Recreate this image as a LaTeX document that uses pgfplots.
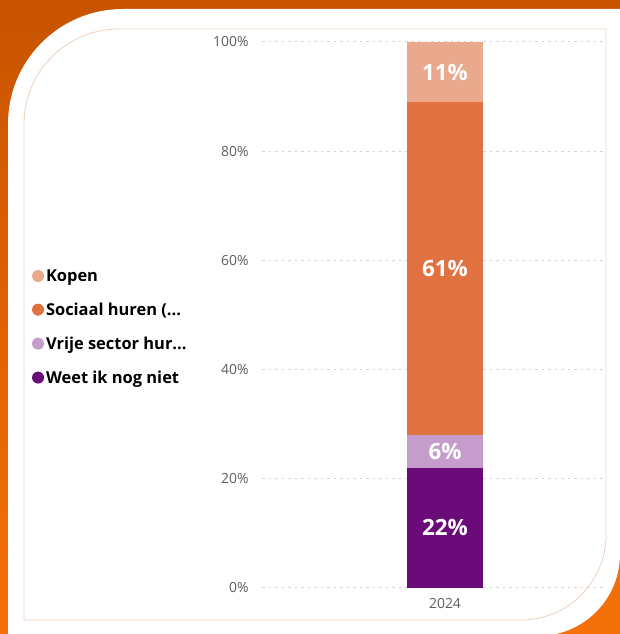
\documentclass[border=0pt]{standalone}
\usepackage{pgfplots}
\pgfplotsset{compat=1.18}
\usepackage{fontspec}
\setmainfont{Open Sans}
\definecolor{kopen}{RGB}{234,168,140}
\definecolor{sociaal}{RGB}{224,114,66}
\definecolor{vrije}{RGB}{197,156,203}
\definecolor{weet}{RGB}{106,11,121}
\definecolor{tickc}{RGB}{96,94,92}
\definecolor{gridc}{RGB}{212,212,212}
\definecolor{bordc}{RGB}{238,208,190}
\definecolor{orA}{RGB}{200,84,0}
\definecolor{orB}{RGB}{245,112,10}
\begin{document}
\begin{tikzpicture}[x=1bp,y=1bp]
\useasboundingbox (0,0) rectangle (620,634);
\shade[top color=orA, bottom color=orB] (0,0) rectangle (620,634);
\fill[white] (8,0) -- (8,510) arc[start angle=180,end angle=90,radius=115] -- (620,625) -- (620,80) arc[start angle=0,end angle=-90,radius=82] -- cycle;
\draw[bordc, line width=0.8bp] (24,14) -- (24,510) arc[start angle=180,end angle=90,radius=95] -- (606,605) -- (606,99) arc[start angle=0,end angle=-90,radius=85] -- cycle;
\begin{axis}[
  at={(262bp,46bp)}, anchor=south west, scale only axis,
  width=343bp, height=546bp,
  xmin=262, xmax=605, ymin=0, ymax=100,
  ybar stacked, bar width=76,
  axis line style={draw=none}, major tick length=0pt,
  ytick={0,20,...,100}, xtick={445}, xticklabels={2024},
  ymajorgrids, grid style={color=gridc, line width=1bp, dash pattern=on 2.5bp off 4bp},
  yticklabel={\pgfmathprintnumber{\tick}\%},
  ticklabel style={font=\fontsize{14}{16}\selectfont, text=tickc},
  yticklabel style={xshift=-10bp},
  xticklabel style={yshift=-7bp},
  /pgf/number format/assume math mode=true,
  reverse legend,
  legend cell align=left,
  legend image code/.code={\fill[#1] (6bp,0bp) circle (6bp);},
  legend style={at={(-0.671,0.478)}, anchor=west, draw=none, fill=none,
    inner sep=0pt, row sep=16bp,
    font=\bfseries\fontsize{16.5}{19}\selectfont, text=black},
]
\addplot[fill=weet, draw=none] coordinates {(445,22)};
\addlegendentry{Weet ik nog niet}
\addplot[fill=vrije, draw=none] coordinates {(445,6)};
\addlegendentry{Vrije sector hur...}
\addplot[fill=sociaal, draw=none] coordinates {(445,61)};
\addlegendentry{Sociaal huren (...}
\addplot[fill=kopen, draw=none] coordinates {(445,11)};
\addlegendentry{Kopen}
\end{axis}
\begin{axis}[
  at={(262bp,46bp)}, anchor=south west, scale only axis,
  width=343bp, height=546bp,
  xmin=262, xmax=605, ymin=0, ymax=100,
  hide axis,
  point meta=explicit symbolic,
  nodes near coords,
  every node near coord/.append style={anchor=center, text=white,
    font=\bfseries\fontsize{22.5}{26}\selectfont},
]
\addplot[draw=none, mark=none] coordinates {(445,11)[22\%] (445,25)[6\%] (445,58.5)[61\%] (445,94.5)[11\%]};
\end{axis}
\end{tikzpicture}
\end{document}
